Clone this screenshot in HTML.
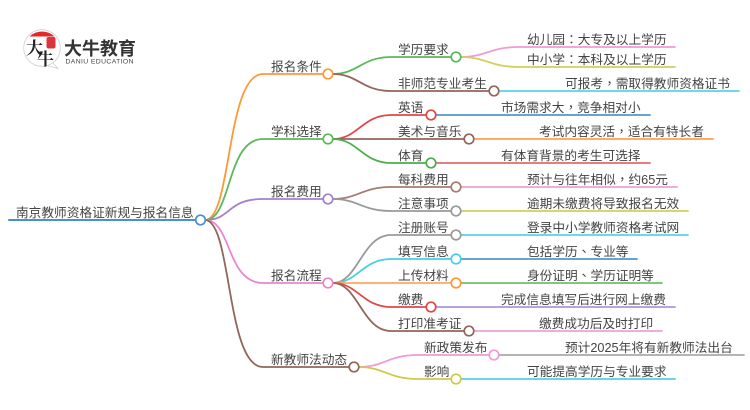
<!DOCTYPE html>
<html><head><meta charset="utf-8">
<style>
html,body{margin:0;padding:0;background:#fff}
svg{display:block;filter:blur(.3px)}
text{font-family:"Liberation Sans","Noto Sans CJK SC",sans-serif;font-size:12.7px;fill:#444}
tspan.p{font-family:"Liberation Sans","Noto Sans CJK TC",sans-serif}
path{fill:none;stroke-width:1.8;stroke-linecap:round}
circle{fill:#fff;stroke-width:1.7}
</style></head>
<body>
<svg width="750" height="410" viewBox="0 0 750 410" xmlns="http://www.w3.org/2000/svg">
<!-- logo -->
<circle cx="42" cy="48" r="18.300" style="stroke:#cfcfcf;stroke-width:.8"/>
<path d="M53 63 L58 68.500 L47 65.500" style="stroke:#cfcfcf;stroke-width:.8"/>
<path d="M29.500 36.500 A18 18 0 0 1 54.500 36.500 Z" style="fill:#e02a2a;stroke:none"/>
<rect x="46.500" y="37" width="9" height="11.500" rx="2" fill="#d8373f"/>
<text x="26" y="54" style="font-size:17px;font-weight:700;fill:#222;font-family:'Noto Serif CJK SC',serif">大</text>
<text x="37" y="65" style="font-size:17px;font-weight:700;fill:#222;font-family:'Noto Serif CJK SC',serif">牛</text>
<text x="64" y="55" style="font-size:18px;font-weight:bold;fill:#333" textLength="72">大牛教育</text>
<text x="65.500" y="63.500" style="font-size:6.800px;fill:#444" textLength="68">DANIU EDUCATION</text>

<!-- root -->
<path d="M9 220 H196" stroke="#4a90d0" style="stroke-width:2"/>
<!-- level1 curves -->
<path d="M205 220 C232 220 226 74 263 74 H323" stroke="#ff9838"/>
<path d="M205 220 C232 220 226 139 263 139 H323" stroke="#5cb85c"/>
<path d="M205 220 C232 220 226 199 263 199 H323" stroke="#a67fd0"/>
<path d="M205 220 C232 220 226 283 263 283 H323" stroke="#ea86d0"/>
<path d="M205 220 C232 220 226 367 263 367 H349" stroke="#93655c"/>
<!-- level2 curves -->
<path d="M333 74 C358 74 362 57 391 57 H451" stroke="#5cb85c"/>
<path d="M333 74 C358 74 362 91 391 91 H489" stroke="#93655c"/>
<path d="M333 139 C358 139 362 115 391 115 H426" stroke="#e04848"/>
<path d="M333 139 H464" stroke="#93655c"/>
<path d="M333 139 C358 139 362 163 391 163 H426" stroke="#4cad4c"/>
<path d="M333 199 C358 199 362 187 391 187 H451" stroke="#a67c70"/>
<path d="M333 199 C358 199 362 211 391 211 H451" stroke="#999"/>
<path d="M333 283 C358 283 362 235 391 235 H451" stroke="#999"/>
<path d="M333 283 C358 283 362 259 391 259 H451" stroke="#45d0e4"/>
<path d="M333 283 H451" stroke="#ffa860"/>
<path d="M333 283 C358 283 362 307 391 307 H426" stroke="#e04848"/>
<path d="M333 283 C358 283 362 331 391 331 H464" stroke="#93655c"/>
<path d="M359 367 C384 367 388 355 418 355 H489" stroke="#f09ad8"/>
<path d="M359 367 C384 367 388 379 418 379 H451" stroke="#cfc94a"/>
<!-- level3 -->
<path d="M461 57 C486 57 490 47 519 47 H675" stroke="#f09ad8"/>
<path d="M461 57 C486 57 490 67 519 67 H675" stroke="#d2cf5c"/>
<path d="M499 91 H739" stroke="#55d4e6"/>
<path d="M436 115 H650" stroke="#5596cc"/>
<path d="M474 139 H713" stroke="#ffa050"/>
<path d="M436 163 H650" stroke="#e06c6c"/>
<path d="M461 187 H677" stroke="#eea0d8"/>
<path d="M461 211 H688" stroke="#d2cf5c"/>
<path d="M461 235 H688" stroke="#55d4e6"/>
<path d="M461 259 H637" stroke="#5596cc"/>
<path d="M461 283 H662" stroke="#6cc06c"/>
<path d="M436 307 H675" stroke="#b094d8"/>
<path d="M474 331 H662" stroke="#eea0d8"/>
<path d="M499 355 H744" stroke="#aaa"/>
<path d="M461 379 H675" stroke="#55cfe0"/>
<!-- nodes -->
<circle cx="200.500" cy="220" r="4.800" stroke="#4a90d0"/>
<circle cx="328" cy="74" r="4.800" stroke="#ff9838"/>
<circle cx="328" cy="139" r="4.800" stroke="#5cb85c"/>
<circle cx="328" cy="199" r="4.800" stroke="#a67fd0"/>
<circle cx="328" cy="283" r="4.800" stroke="#ea86d0"/>
<circle cx="354" cy="367" r="4.800" stroke="#93655c"/>
<circle cx="456" cy="57" r="4.800" stroke="#5cb85c"/>
<circle cx="494" cy="91" r="4.800" stroke="#93655c"/>
<circle cx="431" cy="115" r="4.800" stroke="#e04848"/>
<circle cx="469" cy="139" r="4.800" stroke="#93655c"/>
<circle cx="431" cy="163" r="4.800" stroke="#4cad4c"/>
<circle cx="456" cy="187" r="4.800" stroke="#a67c70"/>
<circle cx="456" cy="211" r="4.800" stroke="#999"/>
<circle cx="456" cy="235" r="4.800" stroke="#999"/>
<circle cx="456" cy="259" r="4.800" stroke="#45d0e4"/>
<circle cx="456" cy="283" r="4.800" stroke="#ff9838"/>
<circle cx="431" cy="307" r="4.800" stroke="#e04848"/>
<circle cx="469" cy="331" r="4.800" stroke="#93655c"/>
<circle cx="494" cy="355" r="4.800" stroke="#f09ad8"/>
<circle cx="456" cy="379" r="4.800" stroke="#cfc94a"/>
<!-- labels -->
<text x="16" y="217">南京教师资格证新规与报名信息</text>
<text x="271" y="71">报名条件</text>
<text x="271" y="136">学科选择</text>
<text x="271" y="196">报名费用</text>
<text x="271" y="280">报名流程</text>
<text x="271" y="364">新教师法动态</text>
<text x="398" y="54">学历要求</text>
<text x="398" y="88">非师范专业考生</text>
<text x="398" y="112">英语</text>
<text x="398" y="136">美术与音乐</text>
<text x="398" y="160">体育</text>
<text x="398" y="184">每科费用</text>
<text x="398" y="208">注意事项</text>
<text x="398" y="232">注册账号</text>
<text x="398" y="256">填写信息</text>
<text x="398" y="280">上传材料</text>
<text x="398" y="304">缴费</text>
<text x="398" y="328">打印准考证</text>
<text x="424" y="352">新政策发布</text>
<text x="424" y="376">影响</text>
<text x="527" y="44">幼儿园<tspan class="p">：</tspan>大专及以上学历</text>
<text x="527" y="64">中小学<tspan class="p">：</tspan>本科及以上学历</text>
<text x="565" y="88">可报考<tspan class="p">，</tspan>需取得教师资格证书</text>
<text x="501" y="112">市场需求大<tspan class="p">，</tspan>竞争相对小</text>
<text x="539" y="136">考试内容灵活<tspan class="p">，</tspan>适合有特长者</text>
<text x="501" y="160">有体育背景的考生可选择</text>
<text x="527" y="184">预计与往年相似<tspan class="p">，</tspan>约65元</text>
<text x="527" y="208">逾期未缴费将导致报名无效</text>
<text x="527" y="232">登录中小学教师资格考试网</text>
<text x="527" y="256">包括学历<tspan class="p">、</tspan>专业等</text>
<text x="527" y="280">身份证明<tspan class="p">、</tspan>学历证明等</text>
<text x="501" y="304">完成信息填写后进行网上缴费</text>
<text x="539" y="328">缴费成功后及时打印</text>
<text x="565" y="352">预计2025年将有新教师法出台</text>
<text x="527" y="376">可能提高学历与专业要求</text>
</svg>
</body></html>
